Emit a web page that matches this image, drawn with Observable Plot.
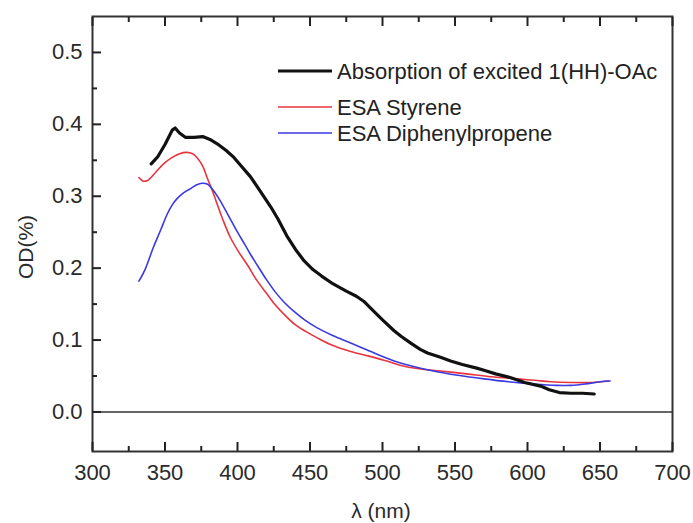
<!DOCTYPE html>
<html><head><meta charset="utf-8">
<script src="https://cdn.jsdelivr.net/npm/d3@7"></script>
<script src="https://cdn.jsdelivr.net/npm/@observablehq/plot@0.6"></script>
<style>
body{margin:0;background:#fff;font-family:"Liberation Sans",Arial,sans-serif}
#wrap{width:693px;height:523px}
</style>
</head><body><div id="wrap"></div>
<script>
// Series: wavelength (nm) and OD values
const absNm = [340.5,345,350,355,357,360,364,370,376,381,386,392,397.5,403,409,416,423,428,434,440,446,452,458,466,475,482,487,493,500,508,513,520,526,531,540,547,555,565,570,578,588,598,609,615,622,630,638,646];
const absOD = [0.345,0.355,0.372,0.392,0.395,0.388,0.382,0.382,0.383,0.379,0.373,0.364,0.354,0.341,0.327,0.306,0.285,0.268,0.245,0.226,0.210,0.198,0.189,0.178,0.168,0.161,0.154,0.142,0.128,0.113,0.105,0.095,0.087,0.082,0.076,0.071,0.066,0.061,0.058,0.053,0.048,0.041,0.036,0.031,0.027,0.026,0.026,0.025];

const styNm = [332,335,338,343,349,355,360,365,369,372,376,379,383,386,390,395,401,407,413,420,426,432,440,447,455,465,478,490,501,512,525,540,558,575,593,605,616,630,645,656];
const styOD = [0.326,0.321,0.322,0.332,0.345,0.354,0.359,0.361,0.359,0.354,0.342,0.326,0.306,0.289,0.267,0.243,0.222,0.204,0.184,0.165,0.149,0.136,0.121,0.112,0.103,0.093,0.084,0.078,0.072,0.065,0.060,0.057,0.053,0.049,0.046,0.044,0.042,0.041,0.041,0.043];

const dipNm = [332,336,342,347,351.5,355,358.5,363,368,372,375.5,379,383,388,394,400,405,409,414,420,426,432,440,447,455,466,478,492,508,520,535,552,570,587,604,620,630,640,650,657];
const dipOD = [0.182,0.197,0.229,0.253,0.275,0.288,0.297,0.305,0.311,0.316,0.318,0.317,0.309,0.294,0.272,0.250,0.233,0.219,0.203,0.184,0.167,0.153,0.138,0.127,0.117,0.106,0.096,0.084,0.071,0.064,0.057,0.051,0.046,0.042,0.039,0.037,0.037,0.039,0.042,0.043];

const seriesNames = ["Absorption of excited 1(HH)-OAc", "ESA Styrene", "ESA Diphenylpropene"];
const seriesColors = ["#111111", "#e8343c", "#3a3ae0"];
const seriesWidths = [3.2, 1.6, 1.6];

const xMajor = [300,350,400,450,500,550,600,650,700];
const xMinor = [325,375,425,475,525,575,625,675];
const yMajor = [0.0,0.1,0.2,0.3,0.4,0.5];
const yMinor = [0.05,0.15,0.25,0.35,0.45];

const toRows = (xs, ys) => xs.map((x, i) => ({x, y: ys[i]}));
const rows = [toRows(absNm, absOD), toRows(styNm, styOD), toRows(dipNm, dipOD)];

const W = 693, H = 523, mL = 92, mR = 21, mT = 16, mB = 72;

const chart = Plot.plot({
  width: W, height: H,
  marginLeft: mL, marginRight: mR, marginTop: mT, marginBottom: mB,
  style: {fontFamily: "'Liberation Sans', Arial, sans-serif", background: "white", color: "#2a2a2a"},
  x: {domain: [300, 700]},
  y: {domain: [-0.055, 0.55]},
  marks: [
    Plot.frame({stroke: "#333", strokeWidth: 2}),
    Plot.ruleY([0], {stroke: "#333", strokeWidth: 1.6}),
    Plot.line(rows[1], {x: "x", y: "y", stroke: seriesColors[1], strokeWidth: seriesWidths[1], curve: "catmull-rom"}),
    Plot.line(rows[2], {x: "x", y: "y", stroke: seriesColors[2], strokeWidth: seriesWidths[2], curve: "catmull-rom"}),
    Plot.line(rows[0], {x: "x", y: "y", stroke: seriesColors[0], strokeWidth: seriesWidths[0], strokeLinejoin: "round"}),
    // bottom axis: inward major ticks plus labels
    Plot.axisX({ticks: xMajor, tickSize: -9, tickPadding: 22, fontSize: 22, stroke: "#222", strokeWidth: 2, label: null}),
    Plot.axisX({ticks: xMinor, tickSize: -5, stroke: "#222", strokeWidth: 2, fill: "white", fontSize: 1, label: null}),
    Plot.axisX({anchor: "top", ticks: xMajor, tickSize: -9, stroke: "#222", strokeWidth: 2, fill: "white", fontSize: 1, label: null}),
    Plot.axisX({anchor: "top", ticks: xMinor, tickSize: -5, stroke: "#222", strokeWidth: 2, fill: "white", fontSize: 1, label: null}),
    Plot.axisY({ticks: yMajor, tickSize: -9, tickPadding: 19, fontSize: 22, tickFormat: d3.format(".1f"), stroke: "#222", strokeWidth: 2, label: null}),
    Plot.axisY({ticks: yMinor, tickSize: -5, stroke: "#222", strokeWidth: 2, fill: "white", fontSize: 1, label: null})
  ]
});

const svg = d3.select(chart);
svg.append("text")
  .attr("transform", "translate(25,247) rotate(-90)")
  .attr("text-anchor", "middle").attr("dominant-baseline", "central")
  .attr("font-size", 21).attr("fill", "#2a2a2a").text("OD(%)");
svg.append("text")
  .attr("x", 381).attr("y", 510)
  .attr("text-anchor", "middle").attr("dominant-baseline", "central")
  .attr("font-size", 21).attr("fill", "#2a2a2a").text("λ (nm)");

// legend
const legY = [71, 107, 133];
const lg = svg.append("g").attr("text-anchor", "start");
seriesNames.forEach((name, i) => {
  lg.append("line").attr("x1", 278).attr("x2", 332).attr("y1", legY[i]).attr("y2", legY[i])
    .attr("stroke", seriesColors[i]).attr("stroke-width", seriesWidths[i]);
  lg.append("text").attr("x", 337).attr("y", legY[i]).attr("dominant-baseline", "central")
    .attr("text-anchor", "start")
    .attr("font-size", 22).attr("fill", "#222").text(name);
});

document.getElementById("wrap").appendChild(chart);
</script>
</body></html>
